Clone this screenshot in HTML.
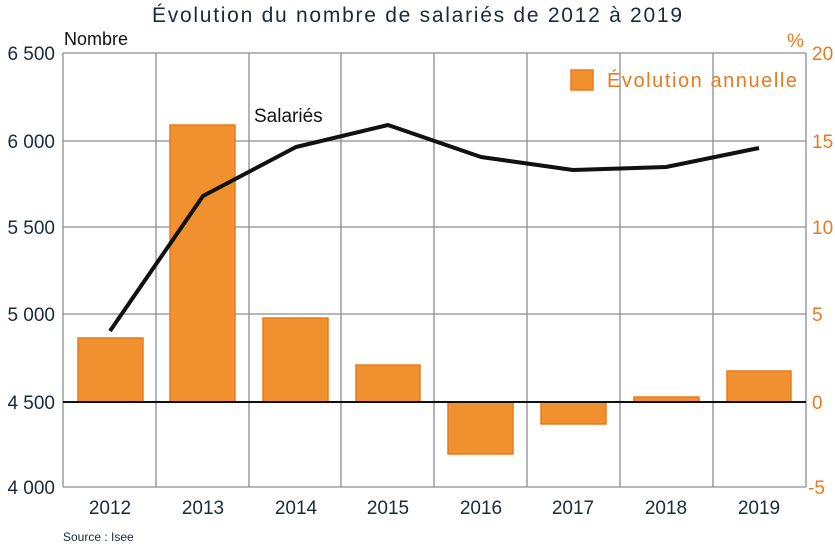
<!DOCTYPE html>
<html><head><meta charset="utf-8"><style>
body{margin:0;background:#fff;}
svg text{font-family:"Liberation Sans",sans-serif;}
</style></head><body>
<svg width="835" height="548" xmlns="http://www.w3.org/2000/svg">
<rect width="835" height="548" fill="#fff"/>
<text x="417" y="22" font-size="21" fill="#1a2a3a" text-anchor="middle" textLength="530">Évolution du nombre de salariés de 2012 à 2019</text>
<g stroke="#8a8d94" stroke-width="1.3">
<line x1="63" y1="53" x2="806" y2="53"/>
<line x1="63" y1="141" x2="806" y2="141"/>
<line x1="63" y1="227" x2="806" y2="227"/>
<line x1="63" y1="314" x2="806" y2="314"/>
<line x1="63" y1="487" x2="806" y2="487"/>
<line x1="63" y1="53" x2="63" y2="487"/>
<line x1="156" y1="53" x2="156" y2="487"/>
<line x1="249" y1="53" x2="249" y2="487"/>
<line x1="341" y1="53" x2="341" y2="487"/>
<line x1="434" y1="53" x2="434" y2="487"/>
<line x1="527" y1="53" x2="527" y2="487"/>
<line x1="620" y1="53" x2="620" y2="487"/>
<line x1="713" y1="53" x2="713" y2="487"/>
<line x1="806" y1="53" x2="806" y2="487"/>
</g>
<g fill="#f0902e" stroke="#ea7a1c" stroke-width="1.5">
<rect x="78" y="338" width="65" height="64"/>
<rect x="170" y="125" width="65" height="277"/>
<rect x="263" y="318" width="65" height="84"/>
<rect x="356" y="365" width="64" height="37"/>
<rect x="448" y="402" width="65" height="52"/>
<rect x="541" y="402" width="65" height="22"/>
<rect x="634" y="397" width="65" height="5"/>
<rect x="727" y="371" width="64" height="31"/>
<rect x="571" y="70" width="22" height="20"/>
</g>
<line x1="63" y1="402" x2="806" y2="402" stroke="#111" stroke-width="2"/>
<polyline points="110,331 203,196 296,147 388,125 481,157 573,170 666,167 759,148" fill="none" stroke="#111" stroke-width="4" stroke-linejoin="round"/>
<text x="254" y="122" font-size="19" fill="#111">Salariés</text>
<text x="607" y="87" font-size="20" fill="#ea7a1c" textLength="190">Évolution annuelle</text>
<text x="64" y="45" font-size="18" fill="#111">Nombre</text>
<g font-size="19" fill="#1a2a3a" text-anchor="end">
<text x="55" y="60">6 500</text>
<text x="55" y="148">6 000</text>
<text x="55" y="234">5 500</text>
<text x="55" y="321">5 000</text>
<text x="55" y="409">4 500</text>
<text x="55" y="494">4 000</text>
</g>
<g font-size="19" fill="#ea7a1c">
<text x="787" y="47">%</text>
<text x="812" y="60">20</text>
<text x="812" y="148">15</text>
<text x="812" y="234">10</text>
<text x="812" y="321">5</text>
<text x="812" y="409">0</text>
<text x="808" y="494">-5</text>
</g>
<g font-size="19" fill="#1a2a3a" text-anchor="middle">
<text x="110" y="514">2012</text>
<text x="203" y="514">2013</text>
<text x="296" y="514">2014</text>
<text x="388" y="514">2015</text>
<text x="481" y="514">2016</text>
<text x="573" y="514">2017</text>
<text x="666" y="514">2018</text>
<text x="759" y="514">2019</text>
</g>
<text x="63" y="541" font-size="12" fill="#1a2a3a">Source : Isee</text>
</svg>
</body></html>
